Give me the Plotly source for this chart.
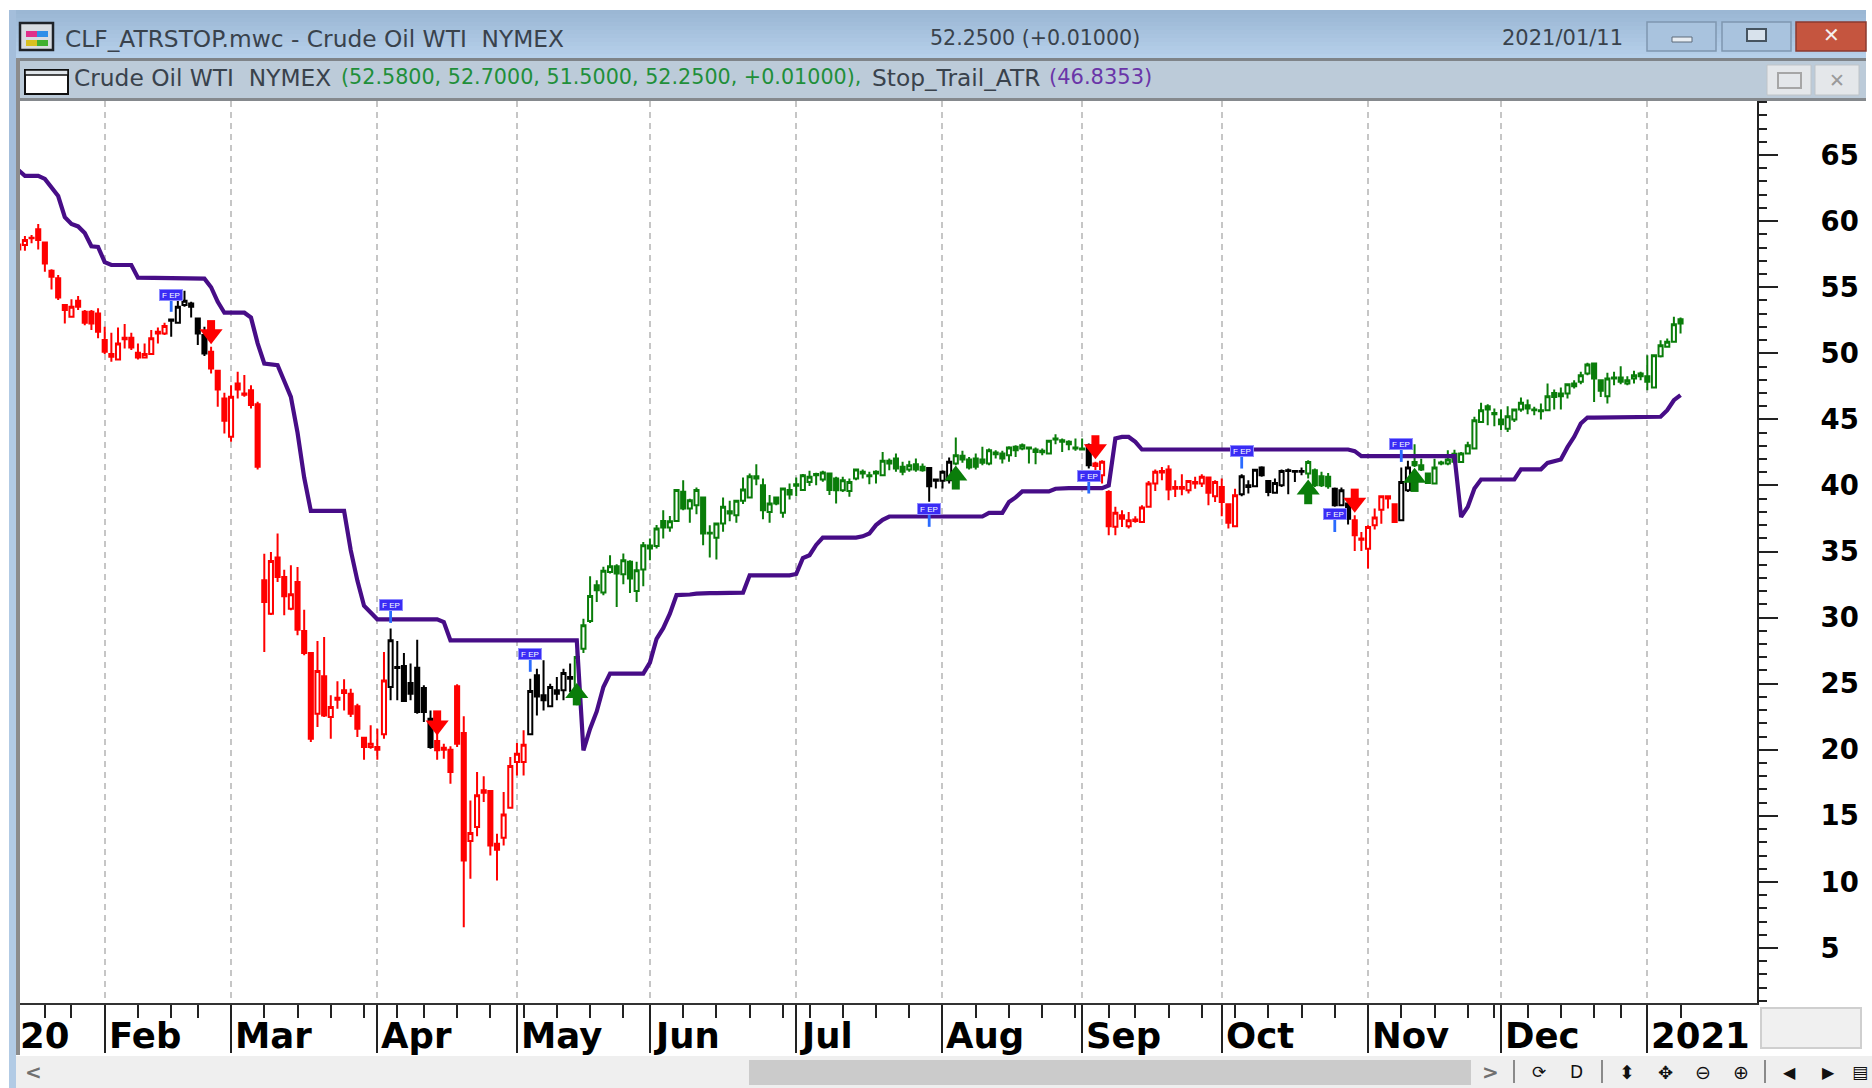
import pandas as pd
import plotly.graph_objects as go

# ---------- data ----------
holidays = ["2020-01-20", "2020-02-17", "2020-04-10", "2020-05-25", "2020-07-03",
            "2020-09-07", "2020-11-26", "2020-12-25", "2021-01-01"]
trade_days = [d for d in pd.bdate_range("2020-01-14", "2021-01-11")
              if d.strftime("%Y-%m-%d") not in holidays]
bars = list(range(len(trade_days)))

opens = [58.24,58.19,58.75,59.38,58.39,56.25,55.67,53.65,52.77,53.98,53.14,53.14,53.02,51.0,49.94,49.54,51.18,51.18,50.04,49.69,
49.94,51.63,51.5,52.56,52.31,53.65,53.77,52.64,51.38,50.12,48.68,46.58,43.68,47.72,46.96,47.2,46.15,
32.82,30.30,34.54,33.08,30.68,32.70,28.99,27.32,22.73,25.56,22.48,23.94,24.5,24.24,23.29,20.91,20.21,20.21,21.17,
24.75,26.26,26.34,25.05,26.21,24.67,22.35,20.66,20.16,20.0,24.8,21.27,13.09,14.15,16.93,16.88,12.89,13.34,15.61,19.07,19.07,
21.17,25.63,24.12,23.29,24.5,24.5,25.51,24.0,27.65,29.75,32.45,31.9,33.46,33.89,33.29,34.22,32.02,33.64,35.46,35.41,37.32,36.82,37.32,
39.52,38.26,38.51,39.09,36.42,36.04,37.12,38.05,37.75,38.84,39.09,40.7,40.02,38.0,39.09,37.93,39.65,40.1,39.65,40.27,40.86,40.45,40.91,
40.52,39.64,39.59,40.52,41.03,40.78,41.03,40.78,41.66,42.04,41.41,41.21,41.61,41.41,41.33,40.45,40.35,40.4,41.66,42.24,41.96,42.04,41.96,41.66,
42.49,42.42,42.29,42.92,42.79,42.87,42.72,42.62,42.42,43.55,43.43,43.3,42.87,42.79,43.05,41.66,
40.78,39.51,36.87,37.75,36.91,37.42,37.24,38.38,40.14,41.1,41.2,39.89,39.89,39.64,40.27,40.14,40.6,39.18,39.89,38.58,36.91,
39.34,40.02,39.94,41.35,40.34,39.44,40.02,41.15,41.1,41.1,40.9,41.15,40.7,40.65,39.76,38.5,38.63,37.37,35.98,35.22,36.99,38.17,39.18,38.58,37.37,39.64,
41.78,41.53,40.9,40.14,41.73,41.66,41.8,41.78,42.41,42.79,44.81,46.0,45.49,44.99,44.3,44.99,45.74,46.07,45.74,45.69,45.69,47.0,46.95,46.95,47.51,47.84,48.47,
49.23,47.96,46.75,48.17,48.17,47.71,48.09,48.47,48.27,47.41,49.78,50.49,50.87,52.58]
highs = [58.52,58.87,58.95,59.78,58.44,56.35,55.92,53.72,54.08,54.33,53.27,53.27,53.40,52.0,51.55,51.96,52.21,51.55,50.75,50.75,
51.76,51.96,52.31,52.6,53.98,54.73,53.9,52.68,52.0,50.49,48.73,47.01,47.59,48.60,48.35,47.59,46.33,
34.84,34.97,36.36,33.63,33.96,33.83,30.6,27.4,28.23,28.53,24.12,25.18,25.33,24.62,23.49,20.96,21.85,21.6,27.4,
29.17,28.23,27.32,26.52,28.33,24.88,22.98,22.86,20.46,20.26,24.95,22.53,16.17,18.32,17.99,16.93,13.65,16.8,19.45,20.51,21.47,
25.38,26.14,26.77,25.0,25.51,26.14,26.52,27.52,29.92,33.13,32.83,33.84,34.72,34.04,34.85,34.35,34.22,35.73,35.99,37.0,38.13,37.68,39.7,
40.4,39.0,39.85,39.14,36.99,37.17,39.09,38.84,38.89,40.6,40.91,41.61,40.53,39.27,39.09,39.82,40.15,40.6,40.86,41.11,40.96,41.11,40.96,
40.65,40.65,40.52,41.28,41.21,41.03,41.16,42.54,42.04,42.42,41.79,41.86,42.04,41.66,41.36,40.52,41.16,42.11,43.63,42.62,42.16,42.42,42.92,42.79,
42.67,42.62,42.97,43.05,43.17,42.92,42.87,42.79,43.43,43.88,43.55,43.43,43.55,43.55,43.17,41.79,
41.91,39.64,38.38,38.12,38.0,37.67,38.5,40.34,41.2,41.4,41.53,40.4,40.85,40.4,40.65,40.85,40.65,40.4,40.52,38.63,39.76,
40.85,40.4,41.2,41.45,40.4,40.52,41.2,41.28,41.15,41.35,41.91,41.28,41.03,40.95,39.84,39.84,38.75,37.75,36.48,36.99,38.25,39.26,39.26,38.58,41.35,41.86,
43.12,42.03,40.95,42.03,41.86,42.67,42.7,42.54,43.3,45.19,46.25,46.15,45.82,45.74,46.0,45.82,46.65,46.5,45.95,46.2,47.71,47.26,47.41,47.71,47.96,48.6,49.28,
49.28,48.01,48.52,48.6,49.02,48.27,48.67,48.6,49.86,49.93,50.99,51.12,52.76,52.70]
lows = [57.43,57.76,58.32,57.86,56.17,54.83,54.03,52.26,52.71,53.27,52.13,51.76,51.13,49.94,49.36,49.49,50.37,50.24,49.54,49.65,
49.9,50.75,51.38,51.25,52.28,53.52,52.71,50.62,49.79,48.48,45.95,43.93,43.30,46.58,46.71,45.83,41.21,
27.40,30.2,32.70,30.17,30.55,28.66,27.15,20.59,21.72,22.48,20.84,23.11,22.98,22.48,20.96,19.25,20.08,19.25,20.84,
23.74,23.74,23.61,23.74,22.73,22.1,20.08,19.25,19.32,17.43,20.21,6.58,10.24,13.45,16.04,12.0,10.11,12.76,15.54,18.06,18.06,
21.1,22.6,22.98,23.24,23.74,23.74,24.37,23.36,27.32,29.6,31.19,31.7,33.34,30.81,32.53,31.87,31.19,32.38,34.35,35.23,35.99,36.49,37.25,
38.13,37.17,37.83,35.48,34.55,34.4,36.49,37.3,37.17,38.59,39.05,40.02,37.45,37.17,38.51,37.55,38.94,39.19,39.6,39.95,40.02,40.28,39.27,
38.63,39.51,39.14,40.4,40.52,40.1,40.15,40.7,41.16,41.03,40.78,41.03,41.03,41.03,38.76,39.77,39.77,40.15,41.53,41.71,41.21,41.21,41.53,41.53,
42.04,41.66,41.79,42.16,42.67,41.66,41.61,42.29,42.4,43.12,42.54,42.67,42.62,42.67,41.28,41.16,
40.15,36.23,36.23,36.86,36.74,37.17,37.17,38.33,39.59,40.4,38.88,39.13,39.26,39.39,39.76,39.89,38.5,38.75,37.67,36.74,36.85,
39.18,39.39,39.89,40.65,39.18,39.39,39.89,39.34,40.27,40.77,40.52,39.89,39.89,39.76,38.38,38.45,37.04,35.05,35.05,33.71,36.66,37.11,38.25,37.17,37.32,39.51,
41.4,41.1,40.14,40.1,41.53,41.53,41.6,41.71,42.36,42.75,44.73,44.56,44.48,44.18,44.05,44.81,45.57,45.39,45.31,44.99,45.65,45.74,45.74,46.58,47.33,47.66,48.34,
46.32,46.7,46.2,47.59,47.66,47.59,47.71,47.96,47.21,47.35,49.68,50.45,50.85,51.50]
closes = [57.86,58.57,58.70,58.57,56.80,55.79,54.23,53.27,53.52,53.52,52.31,52.26,51.63,50.12,49.74,50.75,51.07,50.44,49.69,49.94,
51.13,51.5,52.06,52.46,53.52,53.98,53.52,51.5,49.99,48.85,47.26,44.89,46.71,47.26,46.86,46.08,41.41,
31.18,34.29,33.08,31.61,31.76,29.09,27.32,20.84,25.96,22.6,23.24,23.79,24.3,22.73,21.6,20.21,20.46,20.0,25.25,
28.28,26.19,23.69,24.24,22.86,22.86,20.21,19.96,20.0,18.31,20.46,11.63,13.70,16.55,16.75,12.76,12.44,15.11,18.77,19.70,20.38,
24.45,24.04,23.74,24.75,24.24,25.81,25.38,27.02,29.42,31.64,32.07,33.54,33.89,33.34,34.35,32.96,33.59,35.48,35.23,36.74,36.82,37.3,39.65,
38.26,38.89,39.65,36.36,36.36,37.12,38.38,37.88,38.84,39.7,40.7,40.53,38.13,38.64,38.64,39.77,39.32,39.97,40.78,40.65,40.78,40.98,39.65,
39.64,40.4,40.27,41.21,40.9,40.7,40.9,41.86,41.86,41.28,41.03,41.53,41.21,41.16,39.94,40.35,41.03,41.79,42.29,41.96,41.36,41.41,41.71,42.67,
42.37,42.04,42.87,42.67,43.05,42.79,42.54,42.52,43.38,43.48,43.3,43.12,42.79,42.72,41.53,41.48,
41.79,36.92,37.93,37.49,37.37,37.32,38.33,40.14,41.03,40.98,39.69,39.76,39.76,40.34,40.14,40.65,39.44,40.27,38.75,37.17,39.26,
40.7,39.89,41.18,40.77,39.51,40.19,41.1,41.1,41.03,41.03,41.78,40.02,40.02,39.94,38.5,39.64,37.49,36.23,35.9,36.86,37.57,39.18,39.01,37.24,40.27,41.35,
41.53,41.2,40.19,41.35,41.66,41.96,42.4,42.41,43.04,44.94,45.69,45.74,45.39,44.63,45.24,45.74,46.25,45.82,45.69,45.62,46.75,46.7,46.75,47.66,47.71,48.34,49.15,
48.09,47.16,48.09,48.09,47.84,47.96,48.34,48.27,47.84,49.86,50.61,50.87,52.2,52.25]
stops = ([63.86]+[63.43]*3+[63.2,62.6,61.9,60.3,59.78,59.6,59.1,58.1,58.05,56.9]+[56.68]*4+[55.72]*10
  +[55.65,55.0,53.9]+[53.07]*4+[52.7,50.75,49.23,49.2,49.1,47.9,46.7,44.0,40.6]+[38.07]*6
  +[35.1,32.8,30.9,30.35]+[29.87]*10+[29.67]+[28.28]*20+[19.95,21.6,22.9,24.75]+[25.76]*6
  +[26.6,28.4,29.2,30.3,31.7,31.7,31.75,31.81]+[31.85]*6+[31.89]+[33.2]*7+[33.3,34.5,34.72,35.5]+[36.05]*6
  +[36.15,36.36,37.0,37.4]+[37.65]*15+[37.92]*3+[38.75,39.1]+[39.55]*5+[39.75]+[39.8]*7+[40.0,43.55,43.67,43.67,43.3]
  +[42.72]*32+[42.6]+[42.22]*15+[37.62,38.38,39.77]+[40.45]*6+[41.22]*4+[41.71,41.86,41.97,42.9,43.68,44.69]
  +[45.14]*11+[45.2,45.7,46.45,46.84])

# colour regime of the candles: (first bar, last bar)
red_runs = [(0,22),(29,55),(63,76),(162,183),(201,207)]
black_runs = [(23,28),(56,62),(77,83),(137,140),(161,161),(184,193),(198,200),(208,209)]
green_runs = [(84,136),(141,160),(194,197),(210,250)]

# signals
flag_bar = [23,56,77,137,161,184,198,208]
flag_top = [54.4,30.96,27.25,38.23,40.75,42.62,37.82,43.12]
flag_stem = [53.14,29.6,25.9,36.87,39.39,41.28,36.48,41.78]
sell_bar = [29,63,162,201]
sell_base = [52.51,22.98,43.8,39.76]
sell_tip = [51.0,21.39,42.29,38.25]
buy_bar = [84,141,194,210]
buy_base = [23.36,39.69,38.58,39.51]
buy_tip = [24.75,41.2,40.14,41.03]

month_names = ["Feb","Mar","Apr","May","Jun","Jul","Aug","Sep","Oct","Nov","Dec","2021"]
price_ticks = [5,10,15,20,25,30,35,40,45,50,55,60,65]

# ---------- derived positions ----------
month_bars, week_bars = [], []
for i, d in enumerate(trade_days):
    if i and d.month != trade_days[i-1].month:
        month_bars.append(i)
    if i and d.isocalendar()[1] != trade_days[i-1].isocalendar()[1]:
        week_bars.append(i)
week_bars = [w for w in week_bars if w not in month_bars]

W, H = 1872, 1088
L, R, T, B = 20, 115, 101, 85
def px(x): return (x - L) / (W - L - R)
def py(y): return 1 - (y - T) / (H - T - B)

fig = go.Figure()

def candle(runs, col):
    idx = [i for a, b in runs for i in range(a, b + 1)]
    fig.add_trace(go.Candlestick(
        x=idx, open=[opens[i] for i in idx], high=[highs[i] for i in idx],
        low=[lows[i] for i in idx], close=[closes[i] for i in idx],
        increasing=dict(line=dict(color=col, width=2), fillcolor="white"),
        decreasing=dict(line=dict(color=col, width=2), fillcolor=col),
        whiskerwidth=0, showlegend=False, hoverinfo="skip"))

candle(red_runs, "#ff0000")
candle(black_runs, "#000000")
candle(green_runs, "#0a7d0a")

fig.add_trace(go.Scatter(x=bars, y=stops, mode="lines", name="Stop_Trail_ATR",
                         line=dict(color="#470d87", width=4.2), showlegend=False, hoverinfo="skip"))

# flag stems
xs, ys = [], []
for b, a, c in zip(flag_bar, flag_top, flag_stem):
    xs += [b, b, None]; ys += [a, c, None]
fig.add_trace(go.Scatter(x=xs, y=ys, mode="lines", line=dict(color="#2a6bff", width=2.8),
                         showlegend=False, hoverinfo="skip"))

def arrows(bar, base, tip, col, sym, sgn):
    sx, sy = [], []
    for b, a, t in zip(bar, base, tip):
        sx += [b, b, None]; sy += [a, t - sgn * 0.5, None]
    fig.add_trace(go.Scatter(x=sx, y=sy, mode="lines", line=dict(color=col, width=8),
                             showlegend=False, hoverinfo="skip"))
    fig.add_trace(go.Scatter(x=bar, y=[t - sgn * 0.45 for t in tip], mode="markers",
                             marker=dict(symbol=sym, size=20, color=col, line=dict(width=0)),
                             showlegend=False, hoverinfo="skip"))
arrows(sell_bar, sell_base, sell_tip, "#ff0000", "triangle-down", -1)
arrows(buy_bar, buy_base, buy_tip, "#0a7d0a", "triangle-up", 1)

# ---------- window chrome ----------
shapes, annos = [], []
def rect(x0, y0, x1, y1, fill, line=None, lw=1):
    shapes.append(dict(type="rect", xref="paper", yref="paper", layer="below",
                       x0=px(x0), x1=px(x1), y0=py(y0), y1=py(y1), fillcolor=fill,
                       line=dict(color=line or fill, width=lw if line else 0)))
def text(x, y, s, size=21, color="#333333", anchor="left", family="DejaVu Sans", weight=None):
    f = dict(family=family, size=size, color=color)
    if weight: f["weight"] = weight
    annos.append(dict(xref="paper", yref="paper", x=px(x), y=py(y), text=s, showarrow=False,
                      xanchor=anchor, yanchor="middle", font=f, borderpad=0))

def lerp(a, b, t):
    return "#%02x%02x%02x" % tuple(int(a[i] + (b[i] - a[i]) * t) for i in range(3))
for k in range(12):
    rect(9, 10 + k * 4, 1866, 14 + k * 4 + 1, lerp((155,183,212), (182,208,234), k / 11))
rect(9, 58, 16, 1088, "#b2cbe5")
rect(9, 10, 16, 230, "#a4bedb")
rect(16, 58, 1866, 61, "#7f8489")
rect(16, 61, 1866, 98, "#bccbd9")
rect(16, 98, 1866, 101, "#85898d")
rect(16, 58, 20, 1055, "#8c8c8c")

# app icon
rect(20, 23, 53, 50, "#d8dde2", "#1f2328", 2.5)
rect(26, 31, 37, 37, "#e0308a")
rect(37, 31, 48, 37, "#2f8fe8")
rect(26, 40, 37, 46, "#d8c020")
rect(37, 40, 48, 46, "#40b030")
# series icon
rect(25, 70, 68, 94, "#ffffff", "#111111", 2)
rect(25, 70, 68, 75, "#dfe5ea", "#111111", 1.5)

# window buttons
rect(1647, 22, 1716, 51, "#a9c3de", "#7f97b0", 1.5)
rect(1672, 37, 1692, 42, "#e8edf2", "#5c6b7a", 1)
rect(1722, 22, 1791, 51, "#a9c3de", "#7f97b0", 1.5)
rect(1747, 29, 1766, 41, "#d8e2ec", "#46535f", 2)
rect(1796, 22, 1866, 51, "#c5553f", "#8a3a30", 1.5)
text(1831, 35, "✕", 20, "#f4f0ee", "center", "DejaVu Sans", "bold")
# sub-window buttons
rect(1767, 65, 1811, 95, "#e4e7ea", "#bfc4c8", 1)
rect(1778, 73, 1801, 88, "#e4e7ea", "#a6a6a6", 2)
rect(1815, 65, 1859, 95, "#e4e7ea", "#bfc4c8", 1)
text(1837, 80, "✕", 19, "#9a9a9a", "center", "DejaVu Sans")

# header texts
text(64, 38, "CLF_ATRSTOP.mwc - Crude Oil WTI  NYMEX", 23.3, "#39424c")
text(929, 38, "52.2500 (+0.01000)", 20.6, "#39424c")
text(1501, 38, "2021/01/11", 21, "#39424c")
text(73, 77, "Crude Oil WTI  NYMEX", 23.3, "#39424c")
text(340, 77, "(52.5800, 52.7000, 51.5000, 52.2500, +0.01000),", 20.7, "#1f8f3a")
text(871, 77, "Stop_Trail_ATR", 23.3, "#39424c")
text(1048, 77, "(46.8353)", 21, "#6a35a8")

# time axis labels
text(19, 1035, "20", 35.5, "#000000", family="DejaVu Sans", weight="bold")
for b, name in zip(month_bars, month_names):
    annos.append(dict(xref="x", yref="paper", x=b, y=py(1035), xshift=3, text=name, showarrow=False,
                      xanchor="left", yanchor="middle", borderpad=0,
                      font=dict(family="DejaVu Sans", size=35.5, color="#000000", weight="bold")))

# flags
for b, y in zip(flag_bar, flag_top):
    annos.append(dict(xref="x", yref="y", x=b, y=y, text="F EP", showarrow=False, width=22, height=10,
                      bgcolor="#3a2cf5", bordercolor="#8f8cff", borderwidth=1, borderpad=0,
                      font=dict(family="Liberation Sans", size=8, color="#ffffff")))

# bottom strip
rect(16, 1056, 1872, 1088, "#efefef")
rect(749, 1060, 1471, 1085, "#cbcbcb")
rect(1761, 1008, 1861, 1048, "#f0f0f0", "#cfcfcf", 2)
text(33, 1072, "&lt;", 20, "#707070", "center", "DejaVu Sans", "bold")
text(1490, 1072, "&gt;", 20, "#707070", "center", "DejaVu Sans", "bold")
for x in (1514, 1602, 1765):
    rect(x - 1, 1060, x + 1, 1083, "#8a8a8a")
for x, s, z in [(1539, "⟳", 17), (1576, "D", 17), (1627, "⬍", 19), (1665, "✥", 18), (1703, "⊖", 19),
                (1741, "⊕", 19), (1789, "◀", 16), (1829, "▶", 16), (1860, "▤", 17)]:
    text(x, 1072, s, z, "#111111", "center", "DejaVu Sans")

fig.update_layout(
    width=W, height=H, autosize=False, paper_bgcolor="white", plot_bgcolor="white",
    margin=dict(l=L, r=R, t=T, b=B, pad=0), showlegend=False, hovermode=False,
    boxgap=0.12, shapes=shapes, annotations=annos,
    xaxis=dict(type="linear", range=[0.26, 261.5], rangeslider=dict(visible=False),
               tickmode="array", tickvals=month_bars, ticktext=[""] * len(month_bars), showticklabels=False,
               ticks="outside", ticklen=48, tickwidth=2, tickcolor="#222222",
               showgrid=True, gridcolor="#c6c6c6", gridwidth=2, griddash="6px,5px", zeroline=False,
               showline=True, linecolor="#333333", linewidth=2,
               minor=dict(tickmode="array", tickvals=week_bars, ticks="outside", ticklen=13, tickwidth=2,
                          tickcolor="#222222", showgrid=False)),
    yaxis=dict(side="right", range=[0.84, 69.09], tickmode="array", tickvals=price_ticks,
               ticks="outside", ticklen=19, tickwidth=2, tickcolor="#222222", showgrid=False, zeroline=False,
               showline=True, linecolor="#222222", linewidth=2, ticklabelstandoff=37,
               tickfont=dict(family="DejaVu Sans", size=27.5, color="#000000", weight="bold"),
               minor=dict(dtick=1, ticks="outside", ticklen=8, tickwidth=2, tickcolor="#222222", showgrid=False)),
)
fig.write_html("out.html", config=dict(displayModeBar=False),
               post_script="document.body.style.margin='0';document.documentElement.style.overflow='hidden';")
